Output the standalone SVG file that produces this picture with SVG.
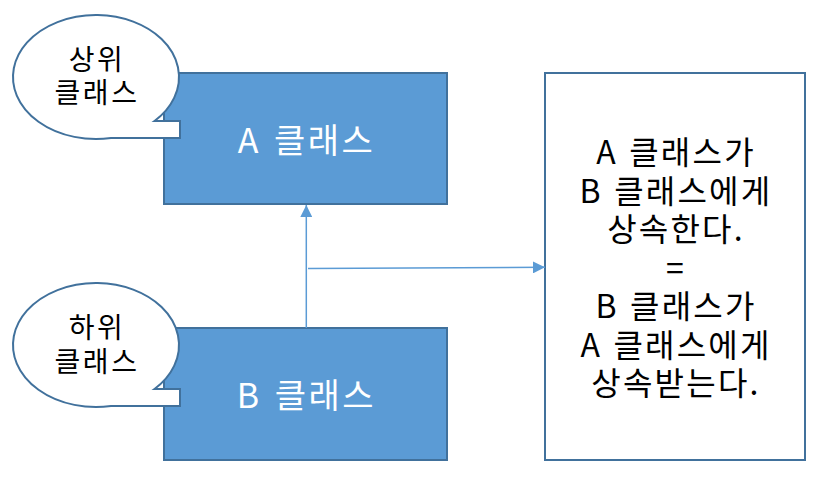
<svg xmlns="http://www.w3.org/2000/svg" width="822" height="485" viewBox="0 0 822 485">
<defs>
<style>
.box{fill:#5B9BD5;stroke:#41719C;stroke-width:2}
.note{fill:#FFFFFF;stroke:#41719C;stroke-width:2}
.call{fill:#FFFFFF;stroke:#41719C;stroke-width:2}
.t{font-family:"Noto Sans CJK KR","Noto Sans",sans-serif;text-anchor:middle}
.w{fill:#FFFFFF;font-size:34px;letter-spacing:2.5px;word-spacing:3px}
.k{fill:#000000;font-size:28px;letter-spacing:2.5px}
.r{fill:#000000;font-size:32px;letter-spacing:2.2px;word-spacing:2px}
.con{stroke:#5B9BD5;stroke-width:1.5;fill:none}
</style>
<marker id="arr" viewBox="0 0 12 12" refX="12" refY="6" markerWidth="12" markerHeight="12" markerUnits="userSpaceOnUse" orient="auto">
<path d="M0,0 L12,6 L0,12 Z" fill="#5B9BD5"/>
</marker>
</defs>
<rect width="822" height="485" fill="#FFFFFF"/>
<g id="classA">
<rect class="box" x="164" y="73" width="283" height="131"/>
<text class="t w" x="306.5" y="153">A 클래스</text>
</g>
<g id="classB">
<rect class="box" x="164" y="328" width="283" height="132"/>
<text class="t w" x="306.5" y="408">B 클래스</text>
</g>
<g id="noteBox">
<rect class="note" x="545" y="73" width="260" height="387"/>
<text class="t r"><tspan x="676" y="164">A 클래스가</tspan><tspan x="676" y="202.5">B 클래스에게</tspan><tspan x="676" y="241">상속한다.</tspan><tspan x="676" y="279.5">=</tspan><tspan x="676" y="318">B 클래스가</tspan><tspan x="676" y="356.5">A 클래스에게</tspan><tspan x="676" y="395">상속받는다.</tspan></text>
</g>
<g id="calloutSuper">
<path class="call" d="M154.5,121 L180,121 L180,138 L111,138 A83,62 0 1 1 154.5,121 Z"/>
<text class="t k"><tspan x="97" y="70">상위</tspan><tspan x="97" y="103">클래스</tspan></text>
</g>
<g id="calloutSub">
<path class="call" d="M154.5,389 L180,389 L180,406 L111,406 A83,62 0 1 1 154.5,389 Z"/>
<text class="t k"><tspan x="97" y="338">하위</tspan><tspan x="97" y="372">클래스</tspan></text>
</g>
<g id="connectors">
<line class="con" x1="306.3" y1="328" x2="306.3" y2="205" marker-end="url(#arr)"/>
<line class="con" x1="308" y1="268.5" x2="545" y2="267.3" marker-end="url(#arr)"/>
</g>
</svg>
